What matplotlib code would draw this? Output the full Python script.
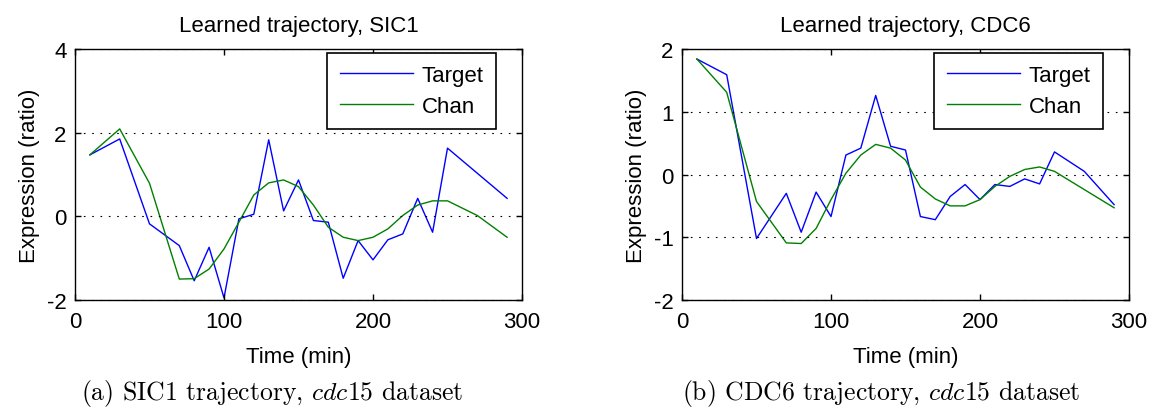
import matplotlib
matplotlib.use("Agg")
import matplotlib.pyplot as plt
from matplotlib import font_manager

names = {f.name for f in font_manager.fontManager.ttflist}
SANS = "Liberation Sans" if "Liberation Sans" in names else "DejaVu Sans"
plt.rcParams['font.family'] = [SANS, 'DejaVu Sans']
plt.rcParams['mathtext.fontset'] = 'cm'
plt.rcParams['axes.unicode_minus'] = False

# ---- data ----
time = [10, 30, 50, 70, 80, 90, 100, 110, 120, 130, 140, 150, 160, 170, 180,
        190, 200, 210, 220, 230, 240, 250, 270, 290]

sic1_target = [1.47, 1.85, -0.18, -0.70, -1.54, -0.74, -1.95, -0.06, 0.05, 1.83,
               0.13, 0.87, -0.10, -0.14, -1.48, -0.58, -1.04, -0.56, -0.42, 0.43,
               -0.38, 1.63, 1.03, 0.43]
sic1_chan = [1.47, 2.09, 0.79, -1.50, -1.49, -1.26, -0.78, -0.14, 0.51, 0.80,
             0.87, 0.71, 0.27, -0.26, -0.50, -0.58, -0.50, -0.30, 0.02, 0.27,
             0.37, 0.37, 0.02, -0.50]

cdc6_target = [1.84, 1.59, -1.02, -0.30, -0.92, -0.28, -0.67, 0.31, 0.42, 1.26,
               0.45, 0.39, -0.67, -0.72, -0.35, -0.16, -0.40, -0.16, -0.19, -0.07,
               -0.15, 0.36, 0.05, -0.48]
cdc6_chan = [1.84, 1.31, -0.43, -1.09, -1.10, -0.86, -0.40, 0.02, 0.31, 0.48,
             0.42, 0.23, -0.20, -0.39, -0.50, -0.50, -0.40, -0.19, -0.03, 0.08,
             0.12, 0.05, -0.24, -0.53]

titles = ["Learned trajectory, SIC1", "Learned trajectory, CDC6"]
captions = [r"(a) SIC1 trajectory, $\mathit{cdc15}$ dataset",
            r"(b) CDC6 trajectory, $\mathit{cdc15}$ dataset"]
series_labels = ["Target", "Chan"]
xticks = [0, 100, 200, 300]
yticks_list = [[-2, 0, 2, 4], [-2, -1, 0, 1, 2]]
ylims = [(-2, 4), (-2, 2)]

W, H = 1151, 414
fig = plt.figure(figsize=(W / 100, H / 100), dpi=100)

FS = 16
axes_px = [(75, 50, 522, 301), (682, 50, 1129, 301)]
data = [(sic1_target, sic1_chan), (cdc6_target, cdc6_chan)]
cap_x = [272, 881]

for i, (x0, y0, x1, y1) in enumerate(axes_px):
    ax = fig.add_axes([x0 / W, 1 - y1 / H, (x1 - x0) / W, (y1 - y0) / H])
    tgt, chan = data[i]
    ax.plot(time, tgt, color=(0, 0, 1), lw=1.0, label=series_labels[0])
    ax.plot(time, chan, color=(0, 0.5, 0), lw=1.0, label=series_labels[1])
    ax.set_xlim(0, 300)
    ax.set_ylim(*ylims[i])
    ax.set_xticks(xticks)
    ax.set_yticks(yticks_list[i])
    ax.yaxis.grid(True, color='k', lw=0.8, linestyle=(0, (1.5, 6)))
    ax.set_axisbelow(False)
    ax.tick_params(direction='in', length=4, width=1, top=True, right=True,
                   labelsize=FS, colors='k')
    ax.tick_params(axis='x', pad=8)
    ax.tick_params(axis='y', pad=6)
    for s in ax.spines.values():
        s.set_linewidth(1.0)
    ax.set_title(titles[i], fontsize=FS, pad=13)
    ax.set_xlabel("Time (min)", fontsize=FS, labelpad=10)
    ax.set_ylabel("Expression (ratio)", fontsize=FS, labelpad=5)
    leg = ax.legend(loc='upper right', bbox_to_anchor=(1 - 26 / 447, 1 - 4 / 251),
                    fontsize=FS, frameon=True, fancybox=False, framealpha=1,
                    edgecolor='k', handlelength=3.3, handletextpad=0.4,
                    borderpad=0.55, labelspacing=0.45, borderaxespad=0)
    leg.get_frame().set_linewidth(1.2)
    fig.text(cap_x[i] / W, 1 - 394 / H, captions[i], ha='center', va='center',
             fontsize=18.5, family='cmr10')

fig.savefig("out.png", dpi=100)
